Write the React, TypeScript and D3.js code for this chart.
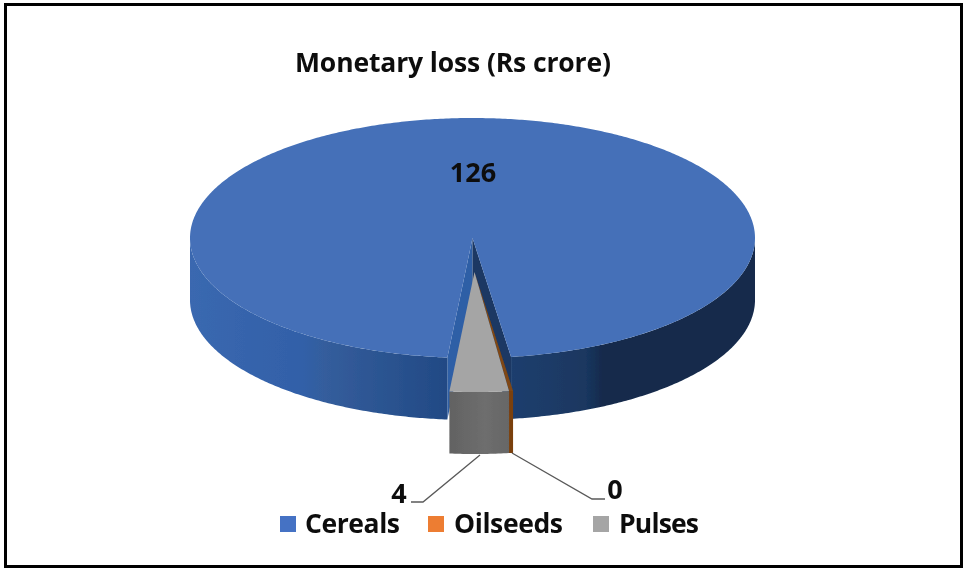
import React from "react";
import * as d3 from "d3";

const categories = ["Cereals", "Oilseeds", "Pulses"];
const values = [126, 0.3, 4.4];
const dataLabels = ["126", "0", "4"];
const topColors = ["#4470b8", "#7f4712", "#a5a5a5"];
const legendColors = ["#4472c4", "#ed7d31", "#a5a5a5"];
const title = "Monetary loss (Rs crore)";

const W = 963, H = 568;
const cx = 472.5, cy = 238, rx = 282.5, ry = 120, depth = 62;
const startDeg = 185.1;
const explode: [number, number][] = [[0, 0], [2, 34], [2, 34]];

const FONT = "'Open Sans', Lato, sans-serif";

const pie = d3.pie<number>().sort(null)
  .startAngle((startDeg * Math.PI) / 180)
  .endAngle(((startDeg + 360) * Math.PI) / 180);
const arcs = pie(values);

const line = d3.line<[number, number]>().x(d => d[0]).y(d => d[1]);

const pt = (a: number, dx: number, dy: number, z = 0): [number, number] => [
  cx + dx + rx * Math.sin(a),
  cy + dy - ry * Math.cos(a) + z,
];

const sample = (a0: number, a1: number) => {
  const n = Math.max(2, Math.ceil(Math.abs(a1 - a0) / 0.01));
  return d3.range(n + 1).map(i => a0 + ((a1 - a0) * i) / n);
};

function topPath(a0: number, a1: number, dx: number, dy: number) {
  const pts: [number, number][] = [[cx + dx, cy + dy], ...sample(a0, a1).map(a => pt(a, dx, dy))];
  return line(pts)! + "Z";
}

function sidePath(a0: number, a1: number, dx: number, dy: number) {
  const from = Math.PI / 2;
  const to = (3 * Math.PI) / 2;
  const ranges: [number, number][] = [];
  for (const k of [0, 2]) {
    const s = Math.max(a0, from + k * Math.PI);
    const e = Math.min(a1, to + k * Math.PI);
    if (e > s) ranges.push([s, e]);
  }
  return ranges.map(([s, e]) => {
    const as = sample(s, e);
    const pts = [...as.map(a => pt(a, dx, dy)), ...as.slice().reverse().map(a => pt(a, dx, dy, depth))];
    return line(pts)! + "Z";
  }).join("");
}

function wallPath(a: number, dx: number, dy: number) {
  const pts: [number, number][] = [
    [cx + dx, cy + dy],
    pt(a, dx, dy),
    pt(a, dx, dy, depth),
    [cx + dx, cy + dy + depth],
  ];
  return line(pts)! + "Z";
}

const legendSquares = [280, 428, 593];
const legendTexts = [305, 454, 619];
const legendWidths = [95, 109, 80];

export default function App() {
  const [cer, oil, pul] = arcs;
  return (
    <svg width={W} height={H} viewBox={`0 0 ${W} ${H}`}
      style={{ position: "absolute", left: 0, top: 0, background: "#fff" }}>
      <defs>
        <linearGradient id="blueSide" gradientUnits="userSpaceOnUse" x1={190} x2={755} y1={0} y2={0}>
          <stop offset="0" stopColor="#3a68b0" />
          <stop offset="0.2" stopColor="#3260a8" />
          <stop offset="0.24" stopColor="#345d9c" />
          <stop offset="0.45" stopColor="#224a85" />
          <stop offset="0.56" stopColor="#1d3f6f" />
          <stop offset="0.7" stopColor="#1a3760" />
          <stop offset="0.73" stopColor="#142a4c" />
          <stop offset="1" stopColor="#142a4c" />
        </linearGradient>
        <linearGradient id="greySide" x1="0" x2="1" y1="0" y2="0">
          <stop offset="0" stopColor="#626262" />
          <stop offset="0.6" stopColor="#6e6e6e" />
          <stop offset="1" stopColor="#666666" />
        </linearGradient>
        <filter id="soft" x="-5%" y="-5%" width="110%" height="110%">
          <feGaussianBlur stdDeviation="0.45" />
        </filter>
        <filter id="softText" x="-5%" y="-20%" width="110%" height="140%">
          <feGaussianBlur stdDeviation="0.35" />
        </filter>
      </defs>
      <rect x={5.5} y={4.5} width={956} height={562} fill="#fff" stroke="#000" strokeWidth={3} />

      <g filter="url(#soft)">
        <path d={wallPath(cer.startAngle, 0, 0)} fill="#2f5ea6" />
        <path d={wallPath(cer.endAngle, 0, 0)} fill="#1a3764" />
        <path d={sidePath(cer.startAngle, cer.endAngle, 0, 0)} fill="url(#blueSide)" />
        <path d={topPath(cer.startAngle, cer.endAngle, 0, 0)} fill={topColors[0]} />

        <path d={sidePath(oil.startAngle, oil.endAngle, explode[1][0], explode[1][1])} fill="#7a4110" />
        <path d={topPath(oil.startAngle, oil.endAngle, explode[1][0], explode[1][1])} fill={topColors[1]} />

        <path d={sidePath(pul.startAngle, pul.endAngle, explode[2][0], explode[2][1])} fill="url(#greySide)" />
        <path d={topPath(pul.startAngle, pul.endAngle, explode[2][0], explode[2][1])} fill={topColors[2]} />
      </g>

      <polyline points="480,455 423,502 411,502" fill="none" stroke="#595959" strokeWidth={1.3} />
      <polyline points="512,453 592,499 605,499" fill="none" stroke="#595959" strokeWidth={1.3} />

      <g fontFamily={FONT} fontWeight={700} fill="#111" filter="url(#softText)">
        <text x={295} y={72} fontSize={26.5} textLength={316} lengthAdjust="spacing">{title}</text>
        <text x={473} y={182} textAnchor="middle" fontSize={27}>{dataLabels[0]}</text>
        <text x={615} y={499} textAnchor="middle" fontSize={27}>{dataLabels[1]}</text>
        <text x={399} y={503} textAnchor="middle" fontSize={27}>{dataLabels[2]}</text>
        {categories.map((c, i) => (
          <g key={c}>
            <rect x={legendSquares[i]} y={516} width={16} height={16} fill={legendColors[i]} />
            <text x={legendTexts[i]} y={533} fontSize={26.5} textLength={legendWidths[i]}>{c}</text>
          </g>
        ))}
      </g>
    </svg>
  );
}
